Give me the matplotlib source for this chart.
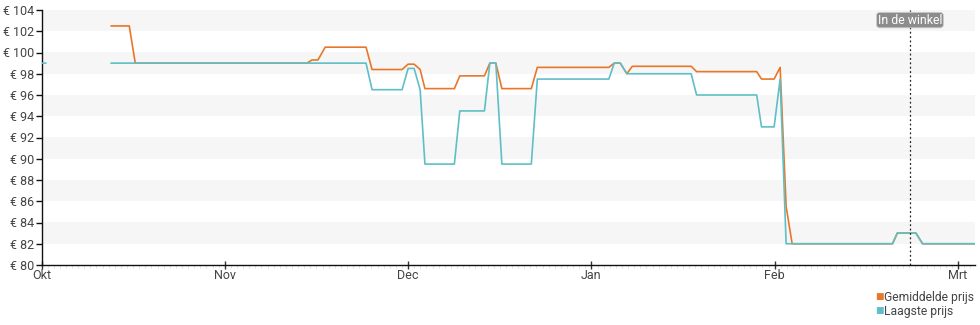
import numpy as np
import matplotlib
matplotlib.use("Agg")
import matplotlib.pyplot as plt
from matplotlib.ticker import FixedLocator, MultipleLocator

plt.rcParams["font.family"] = ["Roboto", "DejaVu Sans"]

# days since 1 Okt, prices in euro
avg_days = [11.6, 14.6, 15.6, 44.2, 45, 46, 47.2, 54, 55, 60, 61, 62, 63, 63.8,
            68.7, 69.6, 73.7, 74.6, 75.6, 76.6, 81.5, 82.5, 94.4, 95.3, 96.3,
            97.4, 98.3, 108.1, 109, 119, 119.8, 121.9, 122.9, 123.9, 124.9,
            141.6, 142.4, 145.5, 146.6, 155.5]
avg_price = [102.5, 102.5, 99, 99, 99.3, 99.3, 100.5, 100.5, 98.4, 98.4, 98.9,
             98.9, 98.4, 96.6, 96.6, 97.8, 97.8, 99.0, 99.0, 96.6, 96.6, 98.6,
             98.6, 99.0, 99.0, 98.0, 98.7, 98.7, 98.2, 98.2, 97.5, 97.5, 98.6,
             85.5, 82, 82, 83, 83, 82, 82]

low_days = [-1, 0.7, np.nan, 11.6, 54, 55, 60, 61, 62, 63, 63.8, 68.7, 69.6,
            73.7, 74.6, 75.6, 76.6, 81.5, 82.5, 94.4, 95.3, 96.3, 97.4, 108.1,
            109, 119, 119.8, 121.9, 122.9, 123.9, 141.6, 142.4, 145.5, 146.6,
            155.5]
low_price = [99, 99, np.nan, 99, 99, 96.5, 96.5, 98.5, 98.5, 96.5, 89.5, 89.5,
             94.5, 94.5, 99, 99, 89.5, 89.5, 97.5, 97.5, 99, 99, 98, 98, 96, 96,
             93, 93, 97.5, 82, 82, 83, 83, 82, 82]

month_labels = ["Okt", "Nov", "Dec", "Jan", "Feb", "Mrt"]
month_pos = [0, 30.5, 61, 91.5, 122, 152.5]
store_day = 144.5

orange = "#e8772a"
teal = "#5fbfc6"
text_col = "#444444"

fig = plt.figure(figsize=(9.8, 3.25), dpi=100)
ax = fig.add_axes([41.5 / 980, 1 - 265 / 325, (975 - 41.5) / 980, 255 / 325])

ax.set_xlim(0, (975 - 41.5) / 6.01)
ax.set_ylim(80, 104)

# alternating horizontal bands
for lo in range(82, 104, 4):
    ax.axhspan(lo, lo + 2, color="#f6f6f6", lw=0, zorder=0)

ax.plot(avg_days, avg_price, color=orange, lw=1.2, zorder=3, clip_on=True)
ax.plot(low_days, low_price, color=teal, lw=1.2, zorder=4, clip_on=True)

ax.axvline(store_day, color="#222222", lw=0.9, ls=(0, (1.5, 2)), zorder=5)
ax.text(store_day, 103.05, "In de winkel", ha="center", va="center",
        fontsize=8.8, color="white", zorder=6,
        bbox=dict(boxstyle="round,pad=0.1,rounding_size=0.25",
                  fc="#8c8c8c", ec="#cccccc", lw=0.6))

for side in ["top", "right"]:
    ax.spines[side].set_visible(False)
ax.spines["left"].set_color("#111111")
ax.spines["bottom"].set_color("#111111")
ax.spines["left"].set_linewidth(1)
ax.spines["bottom"].set_linewidth(1)

ax.set_yticks(range(80, 105, 2))
ax.set_yticklabels([f"€ {v}" for v in range(80, 105, 2)])
ax.tick_params(axis="y", length=4, width=1, pad=1, labelsize=9,
               labelcolor=text_col, color="#111111")

ax.xaxis.set_major_locator(FixedLocator(month_pos))
ax.set_xticklabels(month_labels)
ax.xaxis.set_minor_locator(MultipleLocator(30.5 / 30))
ax.tick_params(axis="x", which="major", direction="inout", length=6, width=1,
               pad=0, labelsize=9, labelcolor=text_col, color="#333333")
ax.tick_params(axis="x", which="minor", direction="out", length=2.5, width=0.5,
               color="#d6d6d6")

# legend squares in the lower right corner
fig.text(875 / 980, 1 - 297 / 325, "■", color=orange, fontsize=6.5,
         ha="left", va="center")
fig.text(884 / 980, 1 - 297 / 325, "Gemiddelde prijs", color=text_col,
         fontsize=8.7, ha="left", va="center")
fig.text(875 / 980, 1 - 311 / 325, "■", color=teal, fontsize=6.5,
         ha="left", va="center")
fig.text(884 / 980, 1 - 311 / 325, "Laagste prijs", color=text_col,
         fontsize=8.7, ha="left", va="center")

fig.savefig("out.png", dpi=100)
